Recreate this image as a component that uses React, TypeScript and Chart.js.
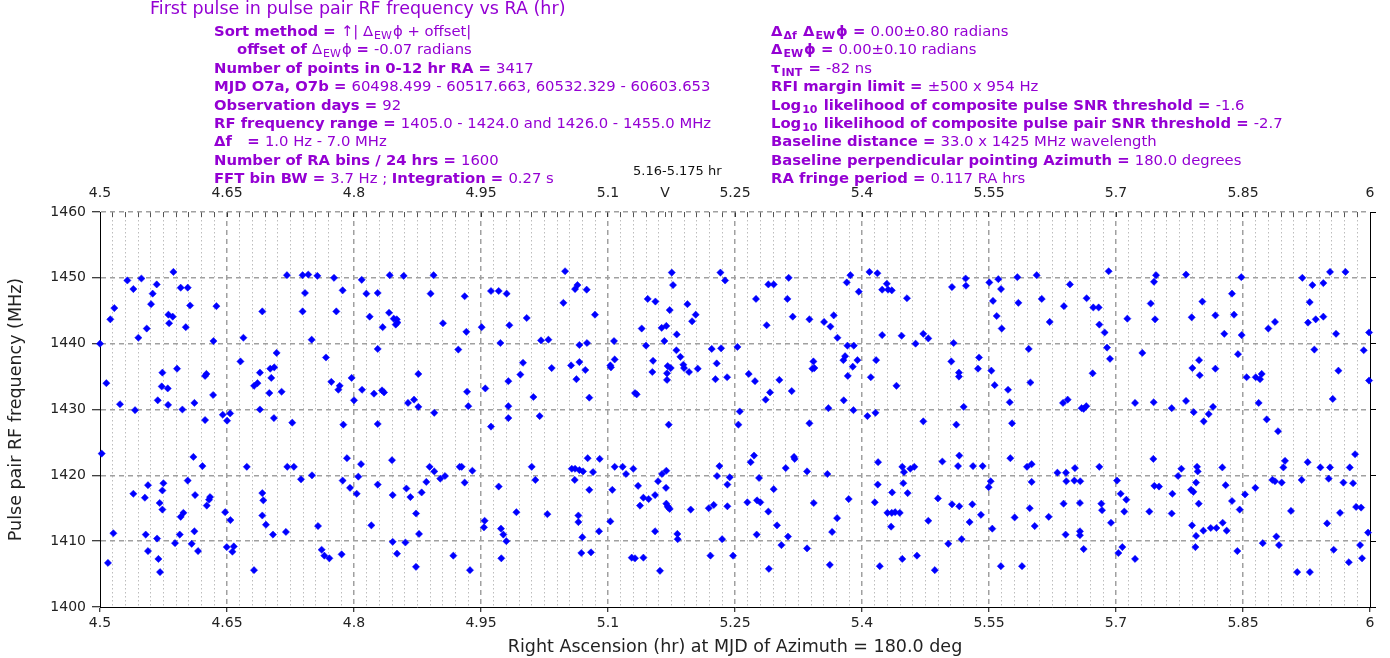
import React, { useEffect, useRef } from 'react';
import { Chart, registerables } from 'chart.js';

Chart.register(...registerables);

const FONT = "'DejaVu Sans', 'Liberation Sans', sans-serif";
const PURPLE = '#9400d3';

// ---------- data: [RA (hr), first-pulse RF frequency (MHz)] ----------
const pts_450_468: [number, number][] = [
  [4.5323,1449.6],[4.5489,1449.9],[4.5867,1450.9],[4.5394,1448.3],[4.567,1449.0],[4.5622,1447.6],
  [4.5953,1448.5],[4.6036,1448.5],[4.5169,1445.4],[4.5603,1446.0],[4.6064,1445.8],[4.6375,1445.7],
  [4.5122,1443.7],[4.5808,1444.4],[4.5859,1444.1],[4.5816,1443.1],[4.5552,1442.3],[4.6013,1442.5],
  [4.5453,1440.9],[4.634,1440.4],[4.6694,1440.9],[4.5,1440.0],[4.6659,1437.3],[4.591,1436.2],
  [4.5737,1435.6],[4.6257,1435.4],[4.6241,1435.1],[4.5075,1434.0],[4.5729,1433.5],[4.58,1433.2],
  [4.682,1433.6],[4.686,1434.0],[4.6336,1432.2],[4.5682,1431.4],[4.5236,1430.8],[4.5804,1430.7],
  [4.6115,1431.0],[4.5414,1429.9],[4.5973,1430.0],[4.645,1429.2],[4.6537,1429.4],[4.6241,1428.4],
  [4.6501,1428.3],[4.502,1423.3],[4.6103,1422.8],[4.621,1421.4],[4.6734,1421.3],[4.6036,1419.2],
  [4.5567,1418.5],[4.5749,1418.8],[4.5737,1417.7],[4.5394,1417.2],[4.553,1416.6],[4.6123,1417.0],
  [4.63,1416.7],[4.6288,1416.3],[4.5705,1415.8],[4.6261,1415.4],[4.5737,1414.8],[4.5985,1414.3],
  [4.5953,1413.7],[4.6478,1414.4],[4.654,1413.2],[4.5158,1411.2],[4.554,1411.0],[4.5674,1410.4],
  [4.5942,1411.0],[4.6115,1411.5],[4.5886,1409.7],[4.6083,1409.6],[4.6497,1409.1],[4.658,1409.2],
  [4.6564,1408.4],[4.5567,1408.5],[4.6158,1408.5],[4.569,1407.3],
];

const pts_468_488: [number, number][] = [
  [4.7208,1450.4],[4.7393,1450.4],[4.746,1450.5],[4.7567,1450.3],[4.7764,1450.0],[4.8091,1449.7],
  [4.8422,1450.4],[4.8587,1450.3],[4.7866,1448.1],[4.7421,1447.7],[4.8146,1447.6],[4.828,1447.7],
  [4.6917,1444.9],[4.7393,1444.9],[4.7791,1444.9],[4.8185,1444.1],[4.8414,1444.7],[4.8469,1443.8],
  [4.8505,1443.7],[4.8493,1442.9],[4.8513,1443.2],[4.8339,1442.5],[4.75,1440.6],[4.828,1439.2],
  [4.7086,1438.6],[4.7669,1437.9],[4.7011,1436.2],[4.7058,1436.4],[4.6889,1435.6],[4.7023,1434.8],
  [4.7732,1434.2],[4.7831,1433.6],[4.7815,1433.0],[4.7972,1434.8],[4.7,1432.5],[4.7145,1432.7],
  [4.8095,1433.0],[4.8236,1432.4],[4.8331,1432.9],[4.8355,1432.6],[4.8,1431.4],[4.8638,1431.0],
  [4.8709,1431.5],[4.6889,1430.0],[4.876,1430.4],[4.876,1435.4],[4.7054,1428.7],[4.7271,1428.0],
  [4.7874,1427.7],[4.828,1427.8],[4.7917,1422.6],[4.8449,1422.3],[4.8083,1421.7],[4.7212,1421.3],
  [4.729,1421.3],[4.7374,1419.4],[4.7504,1420.0],[4.7866,1419.2],[4.8051,1419.8],[4.7953,1418.1],
  [4.828,1418.6],[4.8032,1417.2],[4.6917,1417.3],[4.6929,1416.2],[4.8619,1418.0],[4.8457,1417.0],
  [4.8666,1416.7],[4.6917,1413.9],[4.696,1412.5],[4.8733,1414.2],[4.7575,1412.3],[4.8205,1412.4],
  [4.7043,1411.0],[4.7196,1411.4],[4.8768,1411.1],[4.8457,1409.9],[4.8607,1409.8],[4.7854,1408.0],
  [4.7618,1408.7],[4.765,1407.8],[4.7709,1407.4],[4.8508,1408.1],
];

const pts_488_507: [number, number][] = [
  [4.894,1450.4],[5.0493,1451.0],[4.8905,1447.6],[4.9307,1447.2],[4.9618,1448.0],[4.9709,1448.0],
  [4.9803,1447.6],[5.0473,1446.2],[5.0611,1448.3],[5.0639,1448.9],[4.9051,1443.1],[4.9327,1441.8],
  [4.9508,1442.5],[4.9835,1442.8],[5.004,1443.9],[4.9729,1440.1],[5.0209,1440.5],[5.0296,1440.6],
  [5.0662,1439.8],[4.9232,1439.1],[4.9996,1437.1],[4.9965,1435.3],[5.0335,1436.3],[5.0564,1436.7],
  [5.0662,1437.2],[5.0627,1434.6],[4.9823,1434.3],[4.9551,1433.2],[4.9335,1432.7],[5.0119,1431.9],
  [4.935,1430.5],[4.9823,1430.5],[4.8948,1429.5],[5.0193,1429.0],[4.9823,1428.7],[4.9618,1427.4],
  [4.8893,1421.3],[4.8948,1420.6],[4.9248,1421.3],[4.9272,1421.3],[4.9398,1420.7],[4.9019,1419.5],
  [4.9075,1419.9],[4.8854,1419.0],[4.9307,1418.9],[5.0099,1421.3],[5.0142,1419.3],[5.0572,1421.0],
  [5.0611,1421.0],[5.0662,1420.8],[5.0607,1419.3],[4.8799,1417.4],[4.9709,1418.3],[4.9918,1414.4],
  [5.0284,1414.1],[5.065,1413.9],[5.065,1412.9],[4.9543,1413.1],[4.9535,1412.1],[4.9736,1411.9],
  [4.9764,1411.0],[4.9799,1410.0],[4.9173,1407.8],[4.974,1407.4],
];

const pts_507_526: [number, number][] = [
  [5.1753,1450.8],[5.1768,1448.9],[5.2328,1450.8],[5.2383,1449.6],[5.0748,1448.2],[5.1469,1446.8],
  [5.156,1446.4],[5.1938,1446.0],[5.1729,1445.1],[5.0846,1444.4],[5.2036,1444.4],[5.1993,1443.4],
  [5.1398,1442.3],[5.1634,1442.4],[5.1689,1442.7],[5.1812,1441.4],[5.1071,1440.4],[5.0752,1440.1],
  [5.1449,1439.7],[5.1666,1440.4],[5.2225,1439.2],[5.2336,1439.3],[5.2529,1439.5],[5.1808,1439.0],
  [5.1855,1438.0],[5.1079,1437.6],[5.1532,1437.4],[5.2284,1437.0],[5.1028,1436.7],[5.1035,1436.4],
  [5.1705,1436.6],[5.1741,1436.3],[5.1697,1435.5],[5.189,1436.8],[5.1898,1436.3],[5.1957,1435.7],
  [5.206,1436.2],[5.0732,1436.0],[5.1524,1435.7],[5.1697,1434.5],[5.2269,1434.6],[5.2407,1434.9],
  [5.1319,1432.5],[5.1339,1432.3],[5.0779,1431.8],[5.2556,1429.7],[5.254,1427.7],[5.1717,1427.7],
  [5.076,1422.6],[5.0902,1422.5],[5.0705,1420.6],[5.0823,1420.5],[5.1079,1421.3],[5.1173,1421.3],
  [5.1213,1420.2],[5.1299,1421.0],[5.0779,1417.8],[5.1051,1417.8],[5.1355,1418.4],[5.1638,1420.2],
  [5.1689,1420.7],[5.1591,1419.1],[5.1685,1418.1],[5.1418,1416.6],[5.148,1416.4],[5.1378,1415.4],
  [5.1556,1417.0],[5.1689,1415.7],[5.1713,1415.1],[5.1729,1414.9],[5.1705,1415.3],[5.1977,1414.8],
  [5.219,1415.0],[5.2249,1415.5],[5.241,1415.3],[5.2316,1421.4],[5.2288,1419.9],[5.2438,1419.7],
  [5.241,1418.6],[5.1028,1413.0],[5.0894,1411.5],[5.1556,1411.5],[5.1819,1411.1],[5.1823,1410.3],
  [5.0697,1410.6],[5.2348,1410.3],[5.0685,1408.2],[5.0799,1408.3],[5.128,1407.5],[5.1319,1407.4],
  [5.1418,1407.5],[5.221,1407.8],[5.2477,1407.8],
];

const pts_526_545: [number, number][] = [
  [5.3863,1450.4],[5.382,1449.3],[5.4088,1450.9],[5.4182,1450.7],[5.4293,1449.1],[5.4238,1448.2],
  [5.4308,1448.2],[5.4352,1448.1],[5.2894,1449.0],[5.2957,1449.0],[5.3134,1450.0],[5.3962,1447.9],
  [5.2748,1446.8],[5.3119,1446.8],[5.3182,1444.1],[5.3379,1443.7],[5.3552,1443.3],[5.3627,1442.6],
  [5.3666,1444.3],[5.2874,1442.8],[5.371,1440.9],[5.4238,1441.3],[5.3828,1439.7],[5.3903,1439.7],
  [5.38,1438.1],[5.378,1437.5],[5.3946,1437.5],[5.3426,1437.3],[5.3414,1436.2],[5.3438,1436.3],
  [5.4167,1437.5],[5.3891,1436.5],[5.3832,1435.1],[5.2662,1435.4],[5.2736,1434.3],[5.3024,1434.5],
  [5.317,1432.8],[5.2914,1432.6],[5.2862,1431.5],[5.4104,1434.9],[5.4407,1433.6],[5.3784,1431.4],
  [5.3603,1430.2],[5.3899,1429.9],[5.4064,1429.0],[5.4159,1429.5],[5.3379,1427.9],[5.2725,1423.0],
  [5.2685,1422.0],[5.3197,1422.8],[5.3205,1422.5],[5.3099,1421.1],[5.3351,1420.6],[5.3591,1420.2],
  [5.419,1422.0],[5.2784,1419.6],[5.2957,1417.9],[5.4186,1418.6],[5.4356,1417.4],[5.2646,1415.9],
  [5.276,1416.2],[5.2799,1415.9],[5.343,1415.8],[5.3843,1416.4],[5.4151,1415.9],[5.2894,1414.5],
  [5.3706,1413.5],[5.43,1414.3],[5.4352,1414.3],[5.4391,1414.4],[5.4446,1414.3],[5.2996,1412.4],
  [5.4344,1412.2],[5.2756,1411.0],[5.3126,1410.7],[5.3647,1411.4],[5.3048,1409.4],[5.3351,1408.9],
];

const pts_545_564: [number, number][] = [
  [5.5224,1449.9],[5.5228,1448.8],[5.5063,1448.6],[5.5504,1449.3],[5.561,1449.8],[5.5642,1448.3],
  [5.5835,1450.1],[5.6063,1450.4],[5.4531,1446.9],[5.5547,1446.5],[5.5847,1446.2],[5.6123,1446.8],
  [5.5591,1444.2],[5.6217,1443.3],[5.565,1442.3],[5.4468,1441.2],[5.4724,1441.5],[5.4783,1440.8],
  [5.4633,1440.0],[5.5082,1440.1],[5.5969,1439.2],[5.5382,1437.9],[5.5055,1437.3],[5.537,1436.2],
  [5.5528,1435.9],[5.5145,1435.6],[5.5145,1435.0],[5.5567,1433.7],[5.5989,1434.1],[5.5725,1433.0],
  [5.5745,1431.1],[5.5201,1430.4],[5.4724,1428.2],[5.5114,1427.7],[5.5772,1427.9],[5.5149,1423.0],
  [5.5752,1422.6],[5.4949,1422.1],[5.4476,1421.3],[5.4496,1420.5],[5.4571,1421.0],[5.4618,1421.3],
  [5.5134,1421.4],[5.5311,1421.4],[5.5425,1421.4],[5.5949,1421.3],[5.6004,1421.7],[5.6308,1420.4],
  [5.4488,1418.8],[5.552,1419.1],[5.5496,1418.2],[5.6004,1419.0],[5.4539,1417.3],[5.4897,1416.5],
  [5.5063,1415.6],[5.5149,1415.3],[5.5303,1415.6],[5.5981,1415.0],[5.5405,1414.0],[5.4783,1413.1],
  [5.5271,1412.9],[5.5803,1413.6],[5.604,1412.3],[5.6205,1413.7],[5.5539,1411.9],[5.5177,1410.3],
  [5.5019,1409.6],[5.4649,1407.8],[5.4476,1407.3],
];

const pts_564_583: [number, number][] = [
  [5.6913,1451.0],[5.7473,1450.4],[5.7449,1449.4],[5.7827,1450.5],[5.6456,1449.0],[5.6653,1446.9],
  [5.741,1446.1],[5.802,1446.4],[5.6385,1445.7],[5.6732,1445.5],[5.6795,1445.5],[5.7134,1443.8],
  [5.7461,1443.7],[5.7894,1444.0],[5.8174,1444.3],[5.6803,1442.9],[5.6866,1441.7],[5.6894,1439.4],
  [5.6929,1437.7],[5.7311,1438.6],[5.7981,1437.5],[5.7902,1436.3],[5.7989,1435.2],[5.8174,1436.2],
  [5.6724,1435.5],[5.6374,1431.0],[5.6429,1431.5],[5.6594,1430.2],[5.6618,1430.1],[5.6649,1430.5],
  [5.7225,1431.0],[5.7445,1431.1],[5.7658,1430.2],[5.7827,1431.3],[5.7918,1429.6],[5.8095,1429.3],
  [5.8146,1430.4],[5.8036,1428.2],[5.7441,1422.5],[5.6409,1420.4],[5.6515,1421.1],[5.6803,1421.3],
  [5.6413,1419.1],[5.6508,1419.2],[5.6578,1419.1],[5.7012,1419.2],[5.7453,1418.4],[5.7508,1418.3],
  [5.7733,1419.9],[5.7772,1421.0],[5.7957,1421.3],[5.7965,1420.6],[5.7946,1418.9],[5.7887,1417.8],
  [5.7914,1417.5],[5.7055,1417.2],[5.7122,1416.3],[5.7666,1417.2],[5.6381,1415.7],[5.6574,1415.8],
  [5.6827,1415.7],[5.6835,1414.7],[5.7098,1414.5],[5.7394,1414.5],[5.7658,1414.2],[5.7977,1415.7],
  [5.6941,1412.8],[5.7898,1412.4],[5.8032,1411.6],[5.8119,1412.0],[5.8186,1412.0],[5.6405,1411.0],
  [5.6574,1411.5],[5.6574,1410.9],[5.7946,1410.8],[5.6618,1408.8],[5.7075,1409.1],[5.7028,1408.2],
  [5.7938,1409.1],[5.7225,1407.3],
];

const pts_583_600: [number, number][] = [
  [5.848,1450.1],[5.9201,1450.0],[5.9528,1450.9],[5.971,1450.9],[5.932,1448.9],[5.9449,1449.2],
  [5.837,1447.6],[5.9288,1446.3],[5.8394,1444.4],[5.8799,1442.3],[5.8878,1443.3],[5.9268,1443.2],
  [5.9359,1443.7],[5.9449,1444.1],[5.8279,1441.5],[5.8484,1441.3],[5.9599,1441.5],[5.9989,1441.7],
  [5.9343,1439.1],[5.9926,1439.0],[5.8441,1438.4],[5.9627,1435.9],[5.8543,1434.9],[5.865,1434.9],
  [5.8701,1434.6],[5.8721,1435.4],[5.9989,1434.4],[5.8685,1431.0],[5.956,1431.6],[5.878,1428.5],
  [5.8914,1426.7],[5.9824,1423.2],[5.8256,1421.2],[5.8996,1422.2],[5.8977,1421.2],[5.9264,1422.0],
  [5.9414,1421.2],[5.9528,1421.2],[5.9761,1421.2],[5.8847,1419.3],[5.8878,1419.1],[5.8957,1418.9],
  [5.9193,1419.3],[5.9512,1419.5],[5.9686,1418.9],[5.98,1418.8],[5.8295,1418.5],[5.8646,1418.1],
  [5.8524,1417.1],[5.837,1416.1],[5.8461,1414.8],[5.9067,1414.6],[5.9836,1415.2],[5.9895,1415.1],
  [5.826,1412.8],[5.8307,1411.6],[5.9646,1414.3],[5.9493,1412.7],[5.9977,1411.3],[5.8894,1410.7],
  [5.8733,1409.7],[5.8925,1409.4],[5.8433,1408.5],[5.9571,1408.7],[5.9883,1409.4],[5.9906,1407.4],
];

const pts_low_band: [number, number][] = [
  [4.5094,1406.7],[4.5709,1405.3],[4.6819,1405.6],[4.8732,1406.1],[4.937,1405.6],[5.1614,1405.5],
  [5.29,1405.8],[5.362,1406.4],[5.421,1406.2],[5.486,1405.6],[5.564,1406.2],[5.589,1406.2],
  [5.914,1405.3],[5.929,1405.3],[5.975,1406.8],
];

// ---------- axes ----------
const raMajorTicks = [4.5, 4.65, 4.8, 4.95, 5.1, 5.25, 5.4, 5.55, 5.7, 5.85, 6];
const raBinWidth = 0.015;
const freqTicks = [1400, 1410, 1420, 1430, 1440, 1450, 1460];
const markerRa = 5.1675;
const markerLabel = 'V';
const markerRangeText = '5.16-5.175 hr';

const titleText = 'First pulse in pulse pair RF frequency vs RA (hr)';
const xTitle = 'Right Ascension (hr) at MJD of Azimuth = 180.0 deg';
const yTitle = 'Pulse pair RF frequency (MHz)';

type Seg = [string, string];
const leftLines: Seg[][] = [
  [['b', 'Sort method = '], ['n', '↑| Δ'], ['s', 'EW'], ['n', 'ϕ + offset|']],
  [['b', 'offset of '], ['n', 'Δ'], ['s', 'EW'], ['n', 'ϕ '], ['b', '= '], ['n', '-0.07 radians']],
  [['b', 'Number of points in 0-12 hr RA = '], ['n', '3417']],
  [['b', 'MJD O7a, O7b = '], ['n', '60498.499 - 60517.663, 60532.329 - 60603.653']],
  [['b', 'Observation days = '], ['n', '92']],
  [['b', 'RF frequency range = '], ['n', '1405.0 - 1424.0 and 1426.0 - 1455.0 MHz']],
  [['b', 'Δf\u00a0\u00a0 = '], ['n', '1.0 Hz - 7.0 MHz']],
  [['b', 'Number of RA bins / 24 hrs = '], ['n', '1600']],
  [['b', 'FFT bin BW = '], ['n', '3.7 Hz ; '], ['b', 'Integration = '], ['n', '0.27 s']],
];
const rightLines: Seg[][] = [
  [['b', 'Δ'], ['S', 'Δf'], ['b', ' Δ'], ['S', 'EW'], ['b', 'ϕ = '], ['n', '0.00±0.80 radians']],
  [['b', 'Δ'], ['S', 'EW'], ['b', 'ϕ = '], ['n', '0.00±0.10 radians']],
  [['b', 'τ'], ['S', 'INT'], ['b', ' = '], ['n', '-82 ns']],
  [['b', 'RFI margin limit = '], ['n', '±500 x 954 Hz']],
  [['b', 'Log'], ['S', '10'], ['b', ' likelihood of composite pulse SNR threshold = '], ['n', '-1.6']],
  [['b', 'Log'], ['S', '10'], ['b', ' likelihood of composite pulse pair SNR threshold = '], ['n', '-2.7']],
  [['b', 'Baseline distance = '], ['n', '33.0 x 1425 MHz wavelength']],
  [['b', 'Baseline perpendicular pointing Azimuth = '], ['n', '180.0 degrees']],
  [['b', 'RA fringe period = '], ['n', '0.117 RA hrs']],
];

const near = (a: number, b: number) => Math.abs(a - b) < 1e-6;
const isMajor = (v: number) => raMajorTicks.some((m) => near(m, v));
const isEdgeX = (v: number) => near(v, raMajorTicks[0]) || near(v, raMajorTicks[raMajorTicks.length - 1]);
const CLEAR = 'rgba(0,0,0,0)';

function segStyle(k: string): React.CSSProperties {
  if (k === 'b') return { fontWeight: 'bold' };
  if (k === 'n') return { fontWeight: 'normal' };
  const st: React.CSSProperties = { fontSize: '11px', position: 'relative', top: '3px', padding: '0 1px' };
  if (k === 'S') st.fontWeight = 'bold';
  return st;
}

function TextLine({ segs, left, top }: { segs: Seg[]; left: number; top: number }) {
  return (
    <div
      style={{
        position: 'absolute', left, top, whiteSpace: 'pre', fontFamily: FONT,
        fontSize: '14.8px', lineHeight: '18px', color: PURPLE,
      }}
    >
      {segs.map(([k, t], i) => (
        <span key={i} style={segStyle(k)}>{t}</span>
      ))}
    </div>
  );
}

export default function App() {
  const canvasRef = useRef<HTMLCanvasElement | null>(null);

  useEffect(() => {
    const canvas = canvasRef.current;
    if (!canvas) return;
    const all = [
      ...pts_450_468, ...pts_468_488, ...pts_488_507, ...pts_507_526,
      ...pts_526_545, ...pts_545_564, ...pts_564_583, ...pts_583_600, ...pts_low_band,
    ];
    const tickFont = { family: FONT, size: 14 };
    const titleFont = { family: FONT, size: 17.5 };
    const chart = new Chart(canvas, {
      type: 'scatter',
      data: {
        datasets: [
          {
            data: all.map(([x, y]) => ({ x, y })),
            pointStyle: 'rectRot',
            pointRadius: 3.6,
            pointHoverRadius: 3.6,
            backgroundColor: '#0000ff',
            borderColor: '#0000ff',
            borderWidth: 0.5,
            clip: false,
          } as any,
        ],
      },
      options: {
        animation: false,
        responsive: false,
        devicePixelRatio: 1,
        layout: { padding: 0 },
        plugins: { legend: { display: false }, tooltip: { enabled: false }, title: { display: false } },
        scales: {
          x: {
            type: 'linear',
            position: 'bottom',
            min: raMajorTicks[0],
            max: raMajorTicks[raMajorTicks.length - 1],
            afterFit: (s: any) => { s.height = 51; },
            ticks: {
              stepSize: raBinWidth,
              autoSkip: false,
              maxRotation: 0,
              minRotation: 0,
              padding: 3,
              color: '#222',
              font: tickFont,
              callback: (v: any) => (isMajor(Number(v)) ? String(raMajorTicks.find((m) => near(m, Number(v)))) : ''),
            },
            grid: {
              color: (ctx: any) => {
                const v = ctx.tick ? ctx.tick.value : NaN;
                if (isNaN(v) || isEdgeX(v)) return CLEAR;
                return isMajor(v) ? '#a0a0a0' : '#bdbdbd';
              },
              lineWidth: (ctx: any) => (ctx.tick && isMajor(ctx.tick.value) ? 1.5 : 1),
              tickLength: 5,
              tickColor: (ctx: any) => (ctx.tick && isMajor(ctx.tick.value) ? '#000' : CLEAR),
              tickWidth: 1,
            },
            border: {
              display: true,
              color: '#000',
              width: 1,
              dash: (ctx: any) => (ctx.tick ? (isMajor(ctx.tick.value) ? [5, 4] : [1.5, 2.5]) : []),
            },
            title: { display: true, text: xTitle, color: '#222', font: titleFont, padding: { top: 0, bottom: 0 } },
          },
          x2: {
            type: 'linear',
            position: 'top',
            min: raMajorTicks[0],
            max: raMajorTicks[raMajorTicks.length - 1],
            afterFit: (s: any) => { s.height = 212; },
            afterBuildTicks: (s: any) => {
              const t = s.ticks.slice();
              t.push({ value: markerRa });
              t.sort((a: any, b: any) => a.value - b.value);
              s.ticks = t;
            },
            ticks: {
              stepSize: raBinWidth,
              autoSkip: false,
              maxRotation: 0,
              minRotation: 0,
              padding: 15.5,
              color: '#222',
              font: tickFont,
              callback: (v: any) => {
                const n = Number(v);
                if (near(n, markerRa)) return markerLabel;
                return isMajor(n) ? String(raMajorTicks.find((m) => near(m, n))) : '';
              },
            },
            grid: {
              drawOnChartArea: false,
              tickLength: -5,
              tickColor: (ctx: any) => (ctx.tick && isMajor(ctx.tick.value) ? '#333' : '#555'),
              tickWidth: 1,
            },
            border: { display: false },
          },
          y: {
            type: 'linear',
            position: 'left',
            min: freqTicks[0],
            max: freqTicks[freqTicks.length - 1],
            afterFit: (s: any) => { s.width = 100; },
            afterBuildTicks: (s: any) => { s.ticks = freqTicks.map((value) => ({ value })); },
            ticks: {
              color: '#222',
              font: tickFont,
              padding: 6,
              callback: (v: any) => String(Math.round(Number(v))),
            },
            grid: {
              color: (ctx: any) => (ctx.tick && ctx.tick.value === freqTicks[0] ? CLEAR : '#a0a0a0'),
              lineWidth: 1.5,
              tickLength: 8,
              tickColor: '#000',
              tickWidth: 1,
            },
            border: {
              display: true,
              color: '#000',
              width: 1,
              dash: (ctx: any) => (ctx.tick ? [5, 4] : []),
            },
            title: { display: true, text: yTitle, color: '#222', font: titleFont, padding: { top: 6, bottom: 0 } },
          },
          y2: {
            type: 'linear',
            position: 'right',
            display: true,
            min: freqTicks[0],
            max: freqTicks[freqTicks.length - 1],
            afterFit: (s: any) => { s.width = 20; },
            afterBuildTicks: (s: any) => { s.ticks = freqTicks.map((value) => ({ value })); },
            ticks: { display: false },
            grid: { drawOnChartArea: false, tickLength: 6, tickColor: '#000', tickWidth: 1 },
            border: { display: true, color: '#000', width: 1 },
          },
        },
      } as any,
    });
    return () => chart.destroy();
  }, []);

  const lineTop = (i: number) => 22 + i * 18.4;

  return (
    <div style={{ position: 'fixed', left: 0, top: 0, width: 1390, height: 658, background: '#fff', overflow: 'hidden' }}>
      <canvas ref={canvasRef} width={1390} height={658} style={{ position: 'absolute', left: 0, top: 0 }} />
      <div
        style={{
          position: 'absolute', left: 150, top: -2, fontFamily: FONT, fontSize: '17.5px',
          lineHeight: '20px', color: PURPLE, whiteSpace: 'pre',
        }}
      >
        {titleText}
      </div>
      {leftLines.map((segs, i) => (
        <TextLine key={'l' + i} segs={segs} left={i === 1 ? 237 : 214} top={lineTop(i)} />
      ))}
      {rightLines.map((segs, i) => (
        <TextLine key={'r' + i} segs={segs} left={771} top={lineTop(i)} />
      ))}
      <div
        style={{
          position: 'absolute', left: 633, top: 163, fontFamily: FONT, fontSize: '13px',
          lineHeight: '16px', color: '#111', whiteSpace: 'pre',
        }}
      >
        {markerRangeText}
      </div>
    </div>
  );
}
